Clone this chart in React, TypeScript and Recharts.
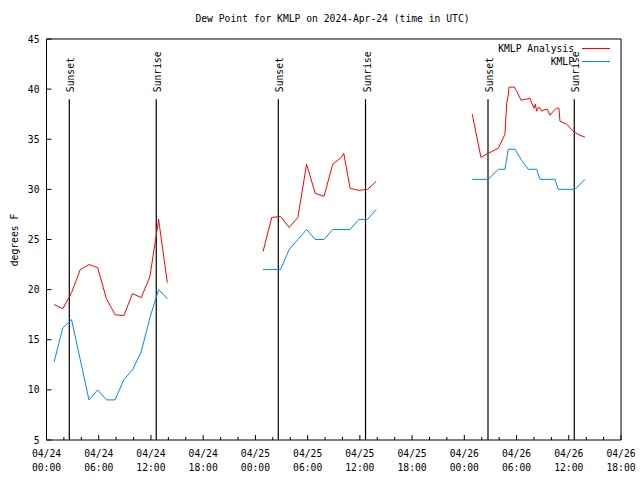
import React from 'react';
import { LineChart, Line, XAxis, YAxis, ReferenceLine } from 'recharts';

// hours since 04/24 00:00 UTC
const analysisDay1Hours = [0.88, 1.88, 2.88, 3.88, 4.88, 5.88, 6.88, 7.88, 8.88, 9.88, 10.88, 11.88, 12.88, 13.88];
const analysisDay1Dew = [18.5, 18.1, 19.7, 22.0, 22.5, 22.2, 19.1, 17.5, 17.4, 19.6, 19.2, 21.3, 27.0, 20.7];
const analysisDay2Hours = [24.88, 25.88, 26.88, 27.88, 28.88, 29.88, 30.88, 31.88, 32.88, 33.88, 34.15, 34.88, 35.88, 36.88, 37.88];
const analysisDay2Dew = [23.8, 27.2, 27.3, 26.2, 27.2, 32.5, 29.6, 29.3, 32.5, 33.2, 33.6, 30.1, 29.9, 30.0, 30.8];
const analysisDay3Hours = [48.91, 49.91, 50.75, 51.9, 52.67, 52.87, 53.05, 53.13, 53.74, 54.08, 54.51, 55.16, 55.54, 55.85, 56.0, 56.15, 56.31, 56.5, 56.69, 56.89, 57.07, 57.53, 57.84, 58.22, 58.61, 58.87, 58.99, 59.76, 60.63, 61.29, 61.86];
const analysisDay3Dew = [37.5, 33.2, 33.6, 34.1, 35.5, 38.6, 39.4, 40.2, 40.2, 39.7, 38.9, 39.0, 39.1, 38.4, 38.1, 38.5, 37.8, 38.2, 38.1, 37.8, 37.9, 38.0, 37.4, 37.8, 38.1, 38.1, 36.8, 36.5, 35.7, 35.4, 35.2];

const obsDay1Hours = analysisDay1Hours;
const obsDay1Dew = [12.8, 16.2, 17.0, 13.0, 9.0, 10.0, 9.0, 9.0, 11.0, 12.0, 13.8, 17.2, 20.0, 19.1];
const obsDay2Hours = [24.88, 25.88, 26.88, 27.88, 28.88, 29.88, 30.88, 31.88, 32.88, 33.88, 34.88, 35.88, 36.88, 37.88];
const obsDay2Dew = [22, 22, 22, 24, 25, 26, 25, 25, 26, 26, 26, 27, 27, 28];
const obsDay3Hours = [48.91, 50.75, 51.9, 52.67, 53.05, 53.82, 54.51, 55.35, 56.31, 56.69, 58.41, 58.79, 60.71, 61.86];
const obsDay3Dew = [31, 31, 32, 32, 34, 34, 33, 32, 32, 31, 31, 30, 30, 31];

const sunsets = [2.62, 26.63, 50.72];
const sunrises = [12.61, 36.65, 60.63];

const xTicks = Array.from({ length: 34 }, (_, i) => i * 2);
const yTicks = [5, 10, 15, 20, 25, 30, 35, 40, 45];

const FONT = '"DejaVu Sans Mono", monospace';
const FS = 9.7;
const RED = '#ff0000';
const BLUE = '#0088ff';

const toPoints = (hours: number[], vals: number[]) => hours.map((t, i) => ({ t, v: vals[i] }));

const analysisData = [
  ...toPoints(analysisDay1Hours, analysisDay1Dew),
  { t: 19, v: null },
  ...toPoints(analysisDay2Hours, analysisDay2Dew),
  { t: 43, v: null },
  ...toPoints(analysisDay3Hours, analysisDay3Dew),
];
const obsData = [
  ...toPoints(obsDay1Hours, obsDay1Dew),
  { t: 19, v: null },
  ...toPoints(obsDay2Hours, obsDay2Dew),
  { t: 43, v: null },
  ...toPoints(obsDay3Hours, obsDay3Dew),
];

const pad = (n: number) => (n < 10 ? '0' + n : '' + n);

const BottomTick = ({ x, y, payload }: any) => {
  const h = payload.value;
  const major = h % 6 === 0;
  return (
    <g>
      <line x1={x} x2={x} y1={y} y2={y - (major ? 5 : 3)} stroke="#000" />
      {major && (
        <text x={x} y={y} textAnchor="middle" fontFamily={FONT} fontSize={FS} fill="#000">
          <tspan x={x} dy={17}>{`04/${24 + Math.floor(h / 24)}`}</tspan>
          <tspan x={x} dy={14}>{`${pad(h % 24)}:00`}</tspan>
        </text>
      )}
    </g>
  );
};

const TopTick = ({ x, y, payload }: any) => {
  const major = payload.value % 6 === 0;
  return <line x1={x} x2={x} y1={y} y2={y + (major ? 5 : 3)} stroke="#000" />;
};

const LeftTick = ({ x, y, payload }: any) => (
  <g>
    <line x1={x} x2={x + 5} y1={y} y2={y} stroke="#000" />
    <text x={x - 7} y={y} dy={3.5} textAnchor="end" fontFamily={FONT} fontSize={FS} fill="#000">
      {payload.value}
    </text>
  </g>
);

const RightTick = ({ x, y }: any) => <line x1={x} x2={x - 5} y1={y} y2={y} stroke="#000" />;

const SunLabel = ({ viewBox, text }: any) => {
  const lx = viewBox.x + 5;
  const ly = viewBox.y - 7;
  return (
    <text transform={`translate(${lx},${ly}) rotate(-90)`} textAnchor="start" fontFamily={FONT} fontSize={FS} fill="#000">
      {text}
    </text>
  );
};

const LegendRow = ({ name, color }: { name: string; color: string }) => (
  <div style={{ display: 'flex', justifyContent: 'flex-end', alignItems: 'center', height: 13 }}>
    <span>{name}</span>
    <span style={{ display: 'inline-block', width: 28, marginLeft: 8, borderTop: `1px solid ${color}` }} />
  </div>
);

const App: React.FC = () => {
  const lineTop = 39;
  return (
    <div style={{ position: 'absolute', left: 0, top: 0, width: 640, height: 480, background: '#fff', fontFamily: FONT, fontSize: FS }}>
      <div style={{ position: 'absolute', left: 0, top: 13, width: 665, textAlign: 'center', lineHeight: '12px' }}>
        Dew Point for KMLP on 2024-Apr-24 (time in UTC)
      </div>
      <div style={{ position: 'absolute', left: 14, top: 240, transform: 'translate(-50%,-50%) rotate(-90deg)', whiteSpace: 'nowrap' }}>
        degrees F
      </div>
      <LineChart width={640} height={480} margin={{ top: 38, right: 18, left: 45.5, bottom: 0 }}>
        <XAxis
          dataKey="t"
          type="number"
          domain={[0, 66]}
          ticks={xTicks}
          interval={0}
          height={40}
          tickSize={0}
          tickMargin={0}
          tickLine={false}
          axisLine={{ stroke: '#000' }}
          tick={<BottomTick />}
          allowDataOverflow
        />
        <XAxis
          xAxisId="top"
          orientation="top"
          dataKey="t"
          type="number"
          domain={[0, 66]}
          ticks={xTicks}
          interval={0}
          height={1}
          tickSize={0}
          tickMargin={0}
          tickLine={false}
          axisLine={{ stroke: '#000' }}
          tick={<TopTick />}
        />
        <YAxis
          type="number"
          domain={[5, 45]}
          ticks={yTicks}
          interval={0}
          width={1}
          tickSize={0}
          tickMargin={0}
          tickLine={false}
          axisLine={{ stroke: '#000' }}
          tick={<LeftTick />}
        />
        <YAxis
          yAxisId="right"
          orientation="right"
          type="number"
          domain={[5, 45]}
          ticks={yTicks}
          interval={0}
          width={1}
          tickSize={0}
          tickMargin={0}
          tickLine={false}
          axisLine={{ stroke: '#000' }}
          tick={<RightTick />}
        />
        {sunsets.map((t) => (
          <ReferenceLine
            key={`ss-${t}`}
            segment={[{ x: t, y: 5 }, { x: t, y: lineTop }]}
            stroke="#000"
            strokeWidth={1.2}
            label={<SunLabel text="Sunset" />}
          />
        ))}
        {sunrises.map((t) => (
          <ReferenceLine
            key={`sr-${t}`}
            segment={[{ x: t, y: 5 }, { x: t, y: lineTop }]}
            stroke="#000"
            strokeWidth={1.2}
            label={<SunLabel text="Sunrise" />}
          />
        ))}
        <Line data={analysisData} dataKey="v" name="KMLP Analysis" stroke={RED} strokeWidth={1} dot={false} isAnimationActive={false} />
        <Line data={obsData} dataKey="v" name="KMLP" stroke={BLUE} strokeWidth={1} dot={false} isAnimationActive={false} />
      </LineChart>
      <div style={{ position: 'absolute', left: 440, top: 42, width: 170 }}>
        <LegendRow name="KMLP Analysis" color={RED} />
        <LegendRow name="KMLP" color={BLUE} />
      </div>
    </div>
  );
};

export default App;
